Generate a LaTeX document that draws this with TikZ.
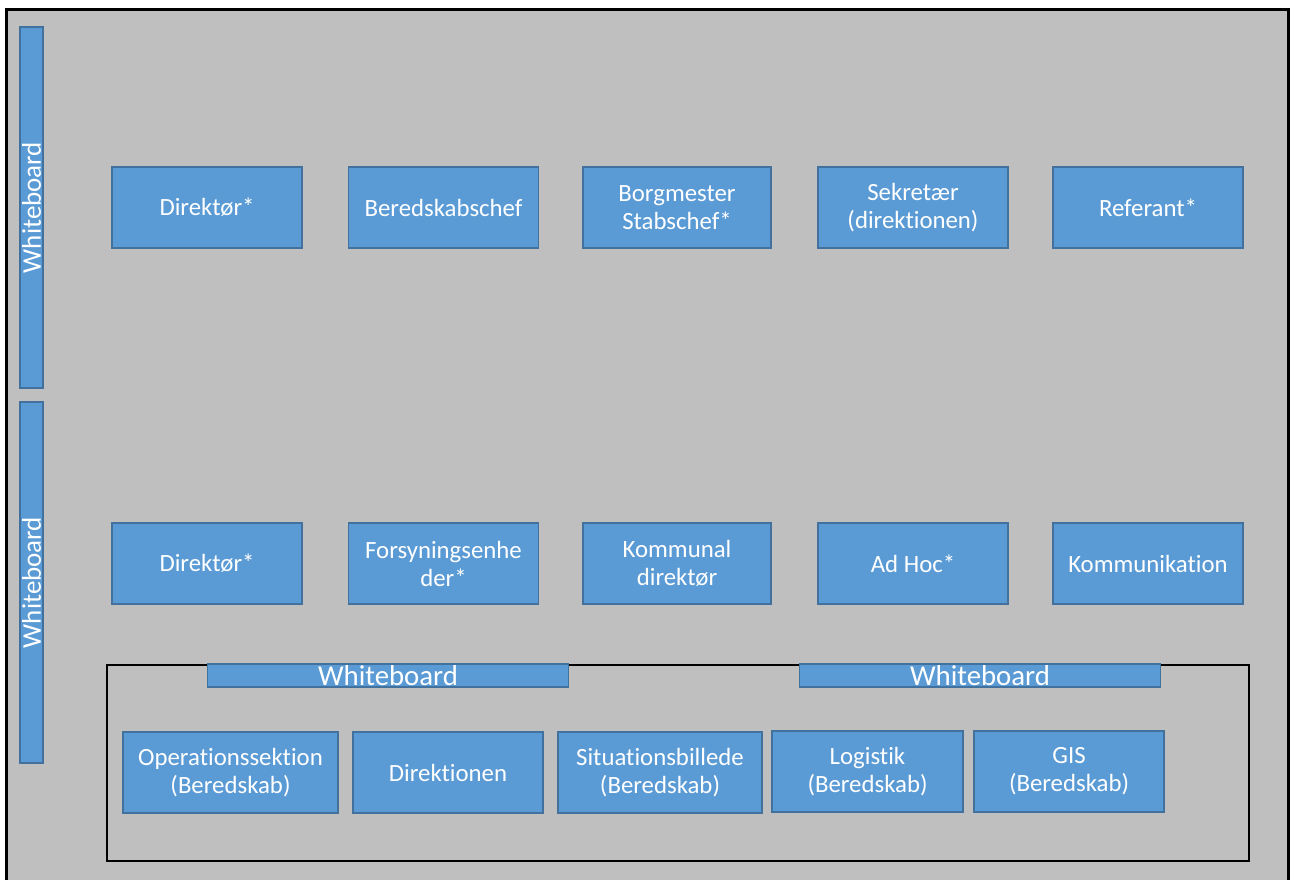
\documentclass[tikz,border=0pt]{standalone}
\usepackage{fontspec}
\setmainfont[Ligatures=NoCommon]{Carlito}
\definecolor{boxblue}{HTML}{5B9BD5}
\definecolor{boxline}{HTML}{41719C}
\definecolor{bggray}{HTML}{BFBFBF}
\begin{document}
\begin{tikzpicture}[x=1pt,y=-1pt,
  role/.style={draw=boxline,fill=boxblue,line width=1.5pt,text=white,
    font=\fontsize{24.8}{28}\selectfont,align=center,inner sep=0pt,
    minimum height=81pt},
  wboard/.style={draw=boxline,fill=boxblue,line width=1.5pt,text=white,
    font=\fontsize{28.8}{30}\selectfont,inner sep=0pt,minimum height=23pt,
    minimum width=361pt}]
\useasboundingbox (0,0) rectangle (1290,879);
\begin{scope}
\clip (0,0) rectangle (1290,879);
\fill[white] (0,0) rectangle (1290,879);
\draw[fill=bggray,line width=3pt] (6,9) rectangle (1288.5,900);
\end{scope}
% inner frame
\draw[line width=2pt] (107,665) rectangle (1249,861);
% vertical whiteboards
\node[wboard,rotate=90,font=\fontsize{27}{30}\selectfont] (wb1) at (31.5,207.5) {Whiteboard};
\node[wboard,rotate=90,font=\fontsize{27}{30}\selectfont] (wb2) at (31.5,582.5) {Whiteboard};
% row 1
\node[role,minimum width=190pt] (r1a) at (207,207.5) {Direktør*};
\node[role,minimum width=190pt] (r1b) at (443.5,207.5) {Beredskabschef};
\node[role,minimum width=188pt] (r1c) at (677,207.5) {Borgmester\\Stabschef*};
\node[role,minimum width=190pt] (r1d) at (913,207.5) {Sekretær\\(direktionen)};
\node[role,minimum width=190pt] (r1e) at (1148,207.5) {Referant*};
% row 2
\node[role,minimum width=190pt] (r2a) at (207,563.5) {Direktør*};
\node[role,minimum width=190pt] (r2b) at (443.5,563.5) {Forsyningsenhe\\der*};
\node[role,minimum width=188pt] (r2c) at (677,563.5) {Kommunal\\direktør};
\node[role,minimum width=190pt] (r2d) at (913,563.5) {Ad Hoc*};
\node[role,minimum width=190pt] (r2e) at (1148,563.5) {Kommunikation};
% horizontal whiteboards
\node[wboard] (wb3) at (388,675.5) {Whiteboard};
\node[wboard] (wb4) at (980,675.5) {Whiteboard};
% bottom row
\node[role,minimum width=215pt] (r3a) at (230.5,772.5) {Operationssektion\\(Beredskab)};
\node[role,minimum width=190pt] (r3b) at (448,772.5) {Direktionen};
\node[role,minimum width=204pt] (r3c) at (660,772.5) {Situationsbillede\\(Beredskab)};
\node[role,minimum width=191pt] (r3d) at (867.5,771.5) {Logistik\\(Beredskab)};
\node[role,minimum width=190pt] (r3e) at (1069,771.5) {GIS\\(Beredskab)};
\end{tikzpicture}
\end{document}
